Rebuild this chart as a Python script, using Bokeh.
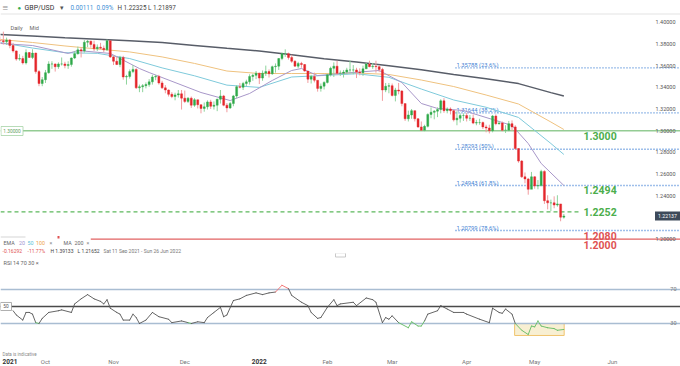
from bokeh.plotting import figure
from bokeh.layouts import column
from bokeh.models import Range1d
from bokeh.embed import file_html
from bokeh.resources import INLINE
from bokeh.core.properties import value

# ---------------- data (GBP/USD daily, 13 Sep 2021 - 13 May 2022, weekdays) -------------
open0 = 1.3835
closes_sep = [1.3830, 1.3820, 1.3835, 1.3785, 1.3735, 1.3660, 1.3665, 1.3625, 1.3720, 1.3675, 1.3715, 1.3545, 1.3435, 1.3470]
highs_sep = [1.3868, 1.3913, 1.3858, 1.3845, 1.3810, 1.3740, 1.3705, 1.3690, 1.3750, 1.3725, 1.3750, 1.3720, 1.3560, 1.3495]
lows_sep = [1.3798, 1.3795, 1.3791, 1.3760, 1.3720, 1.3645, 1.3645, 1.3610, 1.3610, 1.3670, 1.3660, 1.3525, 1.3410, 1.3410]

closes_oct = [1.3535, 1.3615, 1.3615, 1.3590, 1.3615, 1.3615, 1.3600, 1.3610, 1.3670, 1.3710, 1.3745, 1.3735, 1.3815, 1.3825, 1.3795, 1.3755, 1.3770, 1.3760, 1.3745, 1.3830, 1.3680]
highs_oct = [1.3560, 1.3640, 1.3640, 1.3620, 1.3630, 1.3675, 1.3635, 1.3640, 1.3675, 1.3735, 1.3775, 1.3765, 1.3835, 1.3835, 1.3830, 1.3830, 1.3795, 1.3810, 1.3785, 1.3840, 1.3830]
lows_oct = [1.3440, 1.3525, 1.3570, 1.3545, 1.3570, 1.3600, 1.3575, 1.3570, 1.3590, 1.3660, 1.3700, 1.3675, 1.3720, 1.3770, 1.3765, 1.3735, 1.3735, 1.3755, 1.3725, 1.3735, 1.3670]

closes_nov = [1.3640, 1.3610, 1.3675, 1.3495, 1.3500, 1.3545, 1.3565, 1.3395, 1.3405, 1.3415, 1.3425, 1.3450, 1.3495, 1.3500, 1.3440, 1.3395, 1.3375, 1.3335, 1.3315, 1.3330, 1.3340, 1.3300]
highs_nov = [1.3695, 1.3685, 1.3690, 1.3690, 1.3515, 1.3565, 1.3605, 1.3575, 1.3425, 1.3430, 1.3445, 1.3475, 1.3515, 1.3515, 1.3515, 1.3460, 1.3420, 1.3380, 1.3355, 1.3350, 1.3375, 1.3375]
lows_nov = [1.3605, 1.3605, 1.3585, 1.3470, 1.3425, 1.3480, 1.3530, 1.3385, 1.3355, 1.3355, 1.3390, 1.3405, 1.3425, 1.3465, 1.3425, 1.3385, 1.3345, 1.3315, 1.3300, 1.3280, 1.3305, 1.3195]

closes_dec = [1.3270, 1.3300, 1.3235, 1.3285, 1.3240, 1.3205, 1.3220, 1.3265, 1.3225, 1.3235, 1.3290, 1.3320, 1.3235, 1.3210, 1.3250, 1.3320, 1.3405, 1.3400, 1.3435, 1.3450, 1.3500, 1.3510, 1.3530]
highs_dec = [1.3370, 1.3310, 1.3315, 1.3300, 1.3285, 1.3240, 1.3260, 1.3280, 1.3285, 1.3270, 1.3295, 1.3375, 1.3330, 1.3255, 1.3265, 1.3330, 1.3420, 1.3440, 1.3450, 1.3470, 1.3520, 1.3525, 1.3550]
lows_dec = [1.3255, 1.3255, 1.3210, 1.3220, 1.3205, 1.3160, 1.3175, 1.3195, 1.3200, 1.3195, 1.3180, 1.3250, 1.3225, 1.3170, 1.3200, 1.3225, 1.3300, 1.3390, 1.3375, 1.3410, 1.3425, 1.3460, 1.3475]

closes_jan = [1.3485, 1.3530, 1.3545, 1.3525, 1.3590, 1.3595, 1.3665, 1.3710, 1.3710, 1.3675, 1.3640, 1.3595, 1.3620, 1.3610, 1.3550, 1.3475, 1.3500, 1.3465, 1.3390, 1.3410, 1.3445]
highs_jan = [1.3535, 1.3555, 1.3600, 1.3565, 1.3600, 1.3620, 1.3670, 1.3720, 1.3750, 1.3720, 1.3700, 1.3650, 1.3635, 1.3635, 1.3615, 1.3540, 1.3515, 1.3535, 1.3460, 1.3435, 1.3455]
lows_jan = [1.3430, 1.3460, 1.3505, 1.3490, 1.3515, 1.3535, 1.3560, 1.3650, 1.3680, 1.3655, 1.3625, 1.3590, 1.3575, 1.3580, 1.3545, 1.3440, 1.3435, 1.3445, 1.3360, 1.3360, 1.3380]

closes_feb = [1.3515, 1.3575, 1.3595, 1.3530, 1.3530, 1.3540, 1.3560, 1.3560, 1.3560, 1.3540, 1.3535, 1.3570, 1.3615, 1.3590, 1.3595, 1.3590, 1.3565, 1.3375, 1.3410, 1.3415]
highs_feb = [1.3525, 1.3590, 1.3630, 1.3645, 1.3555, 1.3560, 1.3580, 1.3645, 1.3605, 1.3580, 1.3575, 1.3600, 1.3625, 1.3645, 1.3625, 1.3645, 1.3600, 1.3580, 1.3440, 1.3440]
lows_feb = [1.3435, 1.3500, 1.3495, 1.3515, 1.3505, 1.3490, 1.3520, 1.3530, 1.3520, 1.3485, 1.3510, 1.3505, 1.3570, 1.3585, 1.3570, 1.3535, 1.3540, 1.3275, 1.3355, 1.3345]

closes_mar = [1.3325, 1.3375, 1.3365, 1.3250, 1.3110, 1.3145, 1.3185, 1.3110, 1.3035, 1.3005, 1.3040, 1.3150, 1.3170, 1.3180, 1.3195, 1.3275, 1.3185, 1.3200, 1.3185, 1.3100, 1.3115, 1.3140, 1.3140]
highs_mar = [1.3435, 1.3395, 1.3440, 1.3375, 1.3235, 1.3185, 1.3200, 1.3185, 1.3115, 1.3085, 1.3055, 1.3160, 1.3215, 1.3190, 1.3215, 1.3290, 1.3300, 1.3215, 1.3215, 1.3190, 1.3180, 1.3160, 1.3160]
lows_mar = [1.3315, 1.3270, 1.3335, 1.3225, 1.3090, 1.3085, 1.3110, 1.3085, 1.3025, 1.3000, 1.2995, 1.3030, 1.3115, 1.3105, 1.3125, 1.3160, 1.3165, 1.3160, 1.3150, 1.3085, 1.3050, 1.3075, 1.3090]

closes_apr = [1.3115, 1.3115, 1.3070, 1.3075, 1.3075, 1.3035, 1.3025, 1.3000, 1.3135, 1.3065, 1.3070, 1.3005, 1.3005, 1.3065, 1.3035, 1.2835, 1.2720, 1.2575, 1.2555, 1.2460, 1.2575]
highs_apr = [1.3165, 1.3145, 1.3150, 1.3100, 1.3110, 1.3085, 1.3055, 1.3055, 1.3145, 1.3150, 1.3090, 1.3085, 1.3050, 1.3090, 1.3095, 1.3050, 1.2840, 1.2730, 1.2615, 1.2565, 1.2620]
lows_apr = [1.3085, 1.3090, 1.3060, 1.3050, 1.3055, 1.3015, 1.2985, 1.2975, 1.2985, 1.3050, 1.3055, 1.2995, 1.2980, 1.2995, 1.3000, 1.2825, 1.2705, 1.2565, 1.2515, 1.2410, 1.2470]

closes_may = [1.2490, 1.2495, 1.2625, 1.2355, 1.2335, 1.2335, 1.2315, 1.2325, 1.2203, 1.22137]
highs_may = [1.2580, 1.2545, 1.2640, 1.2635, 1.2405, 1.2365, 1.2395, 1.2405, 1.2325, 1.22325]
lows_may = [1.2465, 1.2460, 1.2485, 1.2325, 1.2275, 1.2260, 1.2285, 1.2300, 1.21652, 1.21897]

closes = closes_sep + closes_oct + closes_nov + closes_dec + closes_jan + closes_feb + closes_mar + closes_apr + closes_may
highs = highs_sep + highs_oct + highs_nov + highs_dec + highs_jan + highs_feb + highs_mar + highs_apr + highs_may
lows = lows_sep + lows_oct + lows_nov + lows_dec + lows_jan + lows_feb + lows_mar + lows_apr + lows_may

# moving averages at bar indices
ma_idx = [0, 10, 20, 30, 40, 50, 60, 70, 80, 90, 100, 110, 120, 130, 140, 150, 160, 170, 174]
ema50 = [1.3813, 1.3762, 1.3719, 1.3713, 1.3665, 1.3579, 1.3506, 1.3420, 1.3399, 1.3495, 1.3509, 1.3525, 1.3492, 1.3384, 1.3283, 1.3216, 1.3122, 1.2882, 1.2781]
ema100 = [1.3841, 1.3813, 1.3781, 1.3753, 1.3726, 1.3680, 1.3620, 1.3550, 1.3527, 1.3527, 1.3527, 1.3532, 1.3518, 1.3467, 1.3407, 1.3329, 1.3246, 1.3080, 1.3011]
ma200 = [1.3887, 1.3873, 1.3857, 1.3844, 1.3830, 1.3812, 1.3786, 1.3759, 1.3735, 1.3700, 1.3663, 1.3634, 1.3598, 1.3562, 1.3519, 1.3478, 1.3434, 1.3351, 1.3320]
ema20_idx = [0, 10, 21, 24, 34, 43, 46, 62, 71, 77, 84, 90, 93, 98, 105, 117, 124, 130, 135, 143, 153, 158, 163, 167, 174]
ema20 = [1.3804, 1.3785, 1.3712, 1.3739, 1.3712, 1.3573, 1.3536, 1.3352, 1.3278, 1.3343, 1.3463, 1.3555, 1.3573, 1.3508, 1.3527, 1.3555, 1.3444, 1.3251, 1.3205, 1.3186, 1.3094, 1.3048, 1.2882, 1.2698, 1.2495]

# price axis
tick_prices = [1.40, 1.38, 1.36, 1.34, 1.32, 1.30, 1.28, 1.26, 1.24, 1.20]
tick_labels = ["1.40000", "1.38000", "1.36000", "1.34000", "1.32000", "1.30000", "1.28000", "1.26000", "1.24000", "1.20000"]
last_price = 1.22137
last_label = "1.22137"

# fibonacci retracements
fib_prices = [1.35788, 1.31644, 1.28293, 1.24943, 1.20799]
fib_labels = ["1.35788 (23.6%)", "1.31644 (38.2%)", "1.28293 (50%)", "1.24943 (61.8%)", "1.20799 (78.6%)"]

# key levels
level_prices = [1.3000, 1.2494, 1.2252, 1.2080, 1.2000]
level_labels = ["1.3000", "1.2494", "1.2252", "1.2080", "1.2000"]

# RSI(14)
rsi_idx = [4, 5, 7, 8, 9, 10, 11, 12, 13, 15, 18, 19, 22, 23, 25, 27, 29, 31, 32, 33,
           34, 36, 37, 38, 40, 41, 42, 43, 45, 47, 49, 52, 53, 56, 58, 59, 61, 63, 64, 66,
           68, 69, 70, 72, 74, 76, 79, 81, 83, 85, 87, 89, 90, 93, 95, 96, 98, 99, 101, 103,
           104, 105, 109, 110, 113, 115, 116, 118, 119, 120, 121, 123, 126, 127, 129, 130, 131, 132, 135, 136,
           138, 140, 143, 144, 148, 151, 152, 154, 155, 156, 158, 159, 161, 163, 164, 165, 166, 167, 169, 171,
           172, 174]
rsi_val = [45, 40, 34, 43, 43, 41, 31, 30, 36, 43, 45, 46, 43, 53, 59, 64, 59, 56, 53, 58,
           48, 43, 41, 34, 34, 41, 37, 30, 34, 43, 38, 35, 31, 33, 31, 30, 32, 31, 37, 43,
           49, 38, 40, 57, 59, 63, 66, 64, 66, 67, 75, 71, 63, 55, 51, 43, 36, 37, 49, 58,
           51, 53, 55, 51, 60, 58, 55, 31, 37, 35, 39, 31, 25, 32, 27, 27, 33, 41, 45, 51,
           47, 43, 43, 41, 35, 31, 48, 43, 42, 47, 41, 30, 22, 17, 27, 26, 33, 27, 25, 24,
           22, 23]

# time axis
month_pos = [14, 35, 57, 101, 121, 144, 165, 189]
month_names = ["Oct", "Nov", "Dec", "Feb", "Mar", "Apr", "May", "Jun"]
year_pos = 80
year_name = "2022"

# ---------------- drawing ----------------
FONT = "Roboto"
W = 680
H_PRICE = 253
H_RSI = 113
xr = Range1d(0.12, 210.0)


def make_fig(h, y0, y1, py_bottom, py_top):
    f = figure(width=W, height=h, x_range=xr, y_range=Range1d(y0, y1),
               output_backend="svg", toolbar_location=None,
               x_axis_type=None, y_axis_type=None, min_border=0,
               outline_line_color=None, background_fill_color="white",
               border_fill_color="white")
    f.extra_x_ranges = {"px": Range1d(0, 680)}
    f.extra_y_ranges = {"py": Range1d(py_bottom, py_top)}
    return f


def T(f, x, y, s, color, size, align="left", base="middle", bold=False,
      xn="px", yn="py", yoff=0):
    f.text(x=x if isinstance(x, list) else [x], y=y if isinstance(y, list) else [y],
           text=s if isinstance(s, list) else [s], text_color=color,
           text_font_size=f"{size}px", text_align=align, text_baseline=base,
           text_font=value(FONT), text_font_style="bold" if bold else "normal",
           x_range_name=xn, y_range_name=yn, y_offset=yoff)


p = make_fig(H_PRICE, 1.18682, 1.42000, 253, 0)

# header
p.segment(x0=[0], y0=[13.5], x1=[680], y1=[13.5], line_color="#e3e3e3", line_width=1,
          x_range_name="px", y_range_name="py")
T(p, 2, 6.5, "≡", "#8a8a8a", 10)
T(p, 17, 7, "●", "#2fae4e", 6)
T(p, 24, 7, "GBP/USD", "#333333", 7)
T(p, 59, 7.5, "▾", "#555555", 7)
T(p, 70, 7, "0.00111", "#3d8fd6", 6.3)
T(p, 96, 7, "0.09%", "#3d8fd6", 6.3)
T(p, 117, 7, "H 1.22325  L 1.21897", "#444444", 6.3)
T(p, 10, 27, "Daily", "#666666", 5.6)
T(p, 29, 27, "Mid", "#666666", 5.6)

# key horizontal levels
p.segment(x0=[0], y0=[level_prices[0]], x1=[680], y1=[level_prices[0]], line_color="#94cc94",
          line_width=1.6, x_range_name="px")
p.segment(x0=[0], y0=[level_prices[2]], x1=[578], y1=[level_prices[2]], line_color="#5cb85c",
          line_width=1.1, line_dash="4 3", x_range_name="px")
p.segment(x0=[90], y0=[level_prices[4]], x1=[680], y1=[level_prices[4]], line_color="#e26262",
          line_width=1.2, x_range_name="px")

# fibonacci lines
p.segment(x0=[455] * len(fib_prices), y0=fib_prices, x1=[680] * len(fib_prices), y1=fib_prices,
          line_color="#3f7fd4", line_width=1.4, line_dash="1 2", x_range_name="px")
T(p, [456] * len(fib_prices), fib_prices, fib_labels, "#3f7fd4", 5.8, base="bottom",
  yn="default", yoff=0)

# moving averages
p.line(ma_idx, ma200, line_color="#585d68", line_width=1.5)
p.line(ma_idx, ema100, line_color="#efc27f", line_width=1.0)
p.line(ma_idx, ema50, line_color="#7fcadb", line_width=1.0)
p.line(ema20_idx, ema20, line_color="#a897c9", line_width=1.0)

# candles
idx = list(range(len(closes)))
opens = [open0] + closes[:-1]
up = [c >= o for o, c in zip(opens, closes)]
body_col = ["#2fa94a" if u else "#e4262b" for u in up]
wick_col = ["#8ed49c" if u else "#f29c9f" for u in up]
p.segment(x0=idx, y0=highs, x1=idx, y1=lows, line_color=wick_col, line_width=1)
p.vbar(x=idx, width=0.62, top=[max(o, c) for o, c in zip(opens, closes)],
       bottom=[min(o, c) for o, c in zip(opens, closes)], fill_color=body_col,
       line_color=body_col, line_width=0.4)

# level labels
lvl_col = ["#4cae4c", "#4cae4c", "#4cae4c", "#e05252", "#e05252"]
lvl_off = [5, 4, 0, 5.5, 6]
for pr, lab, col, off in zip(level_prices, level_labels, lvl_col, lvl_off):
    T(p, 583, pr, lab, col, 10.5, yn="default", yoff=off, bold=True)

# left 1.30000 tag
p.rect(x=[11.5], y=[130.5], width=22, height=9, fill_color="white", line_color="#a6d3a6",
       line_width=0.8, x_range_name="px", y_range_name="py")
T(p, 11.5, 130.5, "1.30000", "#5f9f5f", 4.8, align="center")

# price axis labels
T(p, [675] * len(tick_prices), tick_prices, tick_labels, "#555555", 5.5, align="right", yn="default")
p.rect(x=[667], y=[last_price], width=25, height=9, fill_color="#3e4a5a", line_color=None,
       x_range_name="px", width_units="data", height_units="screen")
T(p, 667, last_price, last_label, "#ffffff", 5.2, align="center", yn="default")

# legend block at the bottom of the price pane
p.quad(left=[0], right=[90], bottom=[253], top=[236.5], fill_color="white", line_color=None,
       x_range_name="px", y_range_name="py")
p.segment(x0=[0], y0=[236.5], x1=[25], y1=[236.5], line_color="#d5d5d5", line_width=1,
          x_range_name="px", y_range_name="py")
p.quad(left=[57], right=[59], bottom=[238], top=[235.5], fill_color="#e05252", line_color=None,
       x_range_name="px", y_range_name="py")
leg_x = [3, 18.5, 27, 35.5, 49, 63, 74, 86]
leg_t = ["EMA", "20", "50", "100", "×", "MA", "200", "×"]
leg_c = ["#666666", "#9d8fd0", "#5bbfd7", "#eea24a", "#888888", "#666666", "#666666", "#888888"]
for x_, t_, c_ in zip(leg_x, leg_t, leg_c):
    T(p, x_, 242.5, t_, c_, 5.3)
T(p, 2, 250.5, "-0.16292", "#e05252", 5)
T(p, 27, 250.5, "-11.77%", "#e05252", 5)
T(p, 50, 250.5, "H 1.39133", "#444444", 5)
T(p, 77, 250.5, "L 1.21652", "#444444", 5)
T(p, 103, 250.5, "Sat 11 Sep 2021 - Sun 26 Jun 2022", "#777777", 5)

# ---------------- RSI pane ----------------
q = make_fig(H_RSI, -20.6, 112.35, 366, 253)

q.quad(left=[158.8], right=[174.1], bottom=[15.9], top=[30], fill_color="#f8efd2",
       line_color="#f0c46e", line_width=1)
q.segment(x0=[0, 0], y0=[70, 30], x1=[680, 680], y1=[70, 30], line_color="#a9bdd2",
          line_width=1.6, x_range_name="px")
q.segment(x0=[0], y0=[50], x1=[680], y1=[50], line_color="#4a4a4a", line_width=1.3,
          x_range_name="px")

seg_col = []
for a, b in zip(rsi_val[:-1], rsi_val[1:]):
    m = (a + b) / 2
    seg_col.append("#62bb62" if m <= 30.5 else ("#f26a6a" if m >= 70 else "#555555"))
q.segment(x0=rsi_idx[:-1], y0=rsi_val[:-1], x1=rsi_idx[1:], y1=rsi_val[1:],
          line_color=seg_col, line_width=0.9, line_cap="round")

T(q, [676, 676], [70, 30], ["70", "30"], "#777777", 5.5, align="right", yn="default")
q.rect(x=[5.5], y=[50], width=11, height=8, fill_color="white", line_color="#9a9a9a",
       line_width=0.8, x_range_name="px", height_units="screen")
T(q, 5.5, 50, "50", "#555555", 4.8, align="center", yn="default")
T(q, 3, 262.5, "RSI  14  70  30  ×", "#666666", 5.5)

# pane separator handle
q.rect(x=[340], y=[254.5], width=10, height=4, fill_color="white", line_color="#bbbbbb",
       line_width=0.8, x_range_name="px", y_range_name="py")

# footer / time axis
T(q, 2, 354, "Data is indicative", "#888888", 4.5)
T(q, 2, 361, "2021", "#333333", 6.5, bold=True)
T(q, year_pos, 361, year_name, "#333333", 6.5, align="center", bold=True, xn="default")
T(q, month_pos, [361] * len(month_pos), month_names, "#777777", 6, align="center", xn="default")

layout = column(p, q, spacing=0)
open("out.html", "w").write(file_html(layout, INLINE))
